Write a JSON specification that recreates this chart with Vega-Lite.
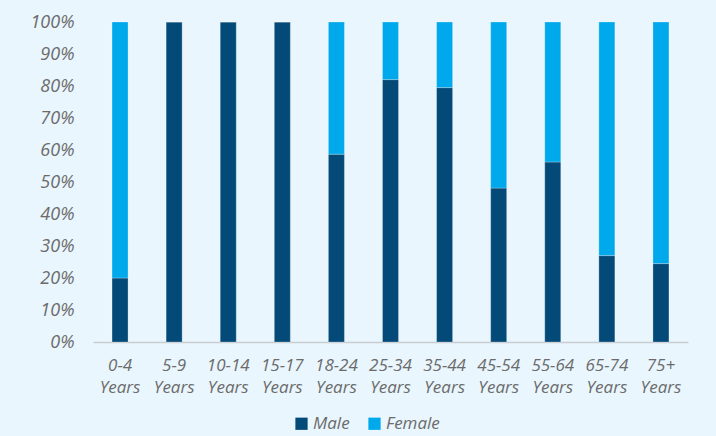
{
  "$schema": "https://vega.github.io/schema/vega-lite/v6.json",
  "width": 595,
  "height": 320,
  "autosize": {"type": "none"},
  "padding": {"left": 93, "top": 22, "right": 28, "bottom": 94},
  "background": "#E9F6FD",
  "config": {
    "view": {"stroke": null},
    "font": "Open Sans"
  },
  "data": {
    "values": [
      {"age": "0-4 Years", "sex": "Male", "rank": 1, "share": 0.20},
      {"age": "0-4 Years", "sex": "Female", "rank": 2, "share": 0.80},
      {"age": "5-9 Years", "sex": "Male", "rank": 1, "share": 1.00},
      {"age": "5-9 Years", "sex": "Female", "rank": 2, "share": 0.00},
      {"age": "10-14 Years", "sex": "Male", "rank": 1, "share": 1.00},
      {"age": "10-14 Years", "sex": "Female", "rank": 2, "share": 0.00},
      {"age": "15-17 Years", "sex": "Male", "rank": 1, "share": 1.00},
      {"age": "15-17 Years", "sex": "Female", "rank": 2, "share": 0.00},
      {"age": "18-24 Years", "sex": "Male", "rank": 1, "share": 0.587},
      {"age": "18-24 Years", "sex": "Female", "rank": 2, "share": 0.413},
      {"age": "25-34 Years", "sex": "Male", "rank": 1, "share": 0.82},
      {"age": "25-34 Years", "sex": "Female", "rank": 2, "share": 0.18},
      {"age": "35-44 Years", "sex": "Male", "rank": 1, "share": 0.795},
      {"age": "35-44 Years", "sex": "Female", "rank": 2, "share": 0.205},
      {"age": "45-54 Years", "sex": "Male", "rank": 1, "share": 0.481},
      {"age": "45-54 Years", "sex": "Female", "rank": 2, "share": 0.519},
      {"age": "55-64 Years", "sex": "Male", "rank": 1, "share": 0.5625},
      {"age": "55-64 Years", "sex": "Female", "rank": 2, "share": 0.4375},
      {"age": "65-74 Years", "sex": "Male", "rank": 1, "share": 0.27},
      {"age": "65-74 Years", "sex": "Female", "rank": 2, "share": 0.73},
      {"age": "75+ Years", "sex": "Male", "rank": 1, "share": 0.245},
      {"age": "75+ Years", "sex": "Female", "rank": 2, "share": 0.755}
    ]
  },
  "mark": {"type": "bar", "size": 16, "stroke": "#ffffff", "strokeOpacity": 0.25, "strokeWidth": 1},
  "encoding": {
    "x": {
      "field": "age",
      "type": "nominal",
      "sort": null,
      "title": null,
      "scale": {"paddingInner": 0, "paddingOuter": 0},
      "axis": {
        "labelAngle": 0,
        "labelExpr": "split(datum.label, ' ')",
        "labelLineHeight": 22,
        "labelFontSize": 17,
        "labelFontStyle": "italic",
        "labelColor": "#6B6B6B",
        "labelPadding": 15,
        "labelOverlap": false,
        "ticks": false,
        "domainColor": "#C9CDD1",
        "domainWidth": 1.5,
        "grid": false
      }
    },
    "y": {
      "field": "share",
      "type": "quantitative",
      "stack": "zero",
      "title": null,
      "scale": {"domain": [0, 1]},
      "axis": {
        "format": ".0%",
        "values": [0, 0.1, 0.2, 0.3, 0.4, 0.5, 0.6, 0.7, 0.8, 0.9, 1],
        "labelFontSize": 18,
        "labelFontStyle": "italic",
        "labelColor": "#6B6B6B",
        "labelPadding": 19,
        "labelOverlap": false,
        "ticks": false,
        "domain": false,
        "grid": false
      }
    },
    "order": {"field": "rank", "type": "quantitative", "sort": "ascending"},
    "color": {
      "field": "sex",
      "type": "nominal",
      "title": null,
      "scale": {"domain": ["Male", "Female"], "range": ["#044A78", "#00A8EC"]},
      "legend": {
        "orient": "none",
        "legendX": 200,
        "legendY": 393,
        "direction": "horizontal",
        "symbolType": "square",
        "symbolSize": 150,
        "symbolStrokeWidth": 0,
        "labelFontSize": 17,
        "labelFontStyle": "italic",
        "labelColor": "#6B6B6B",
        "labelOffset": 3,
        "columnPadding": 16
      }
    }
  }
}
